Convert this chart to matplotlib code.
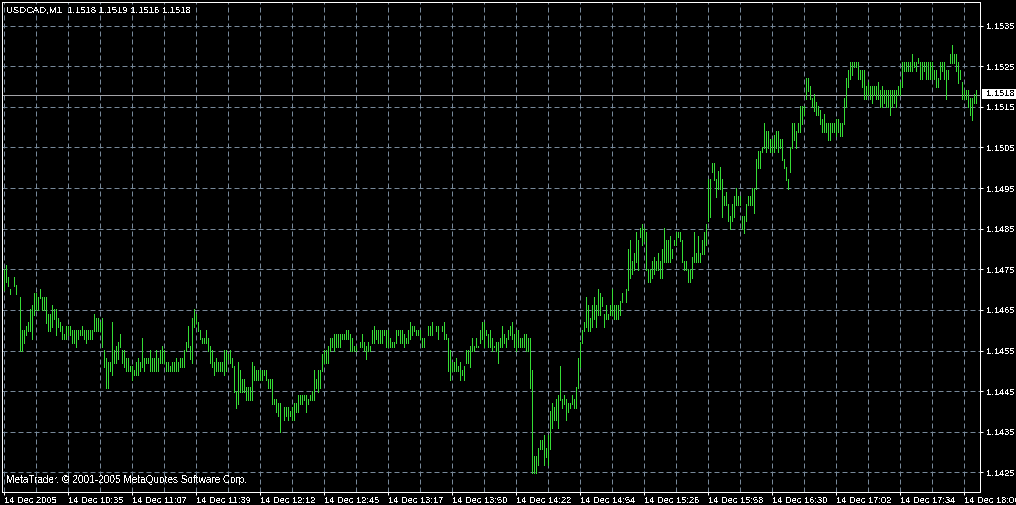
"""
USDCAD M1 bar chart in the MetaTrader green-on-black look
"""

import matplotlib
matplotlib.use("Agg")
import matplotlib.pyplot as plt  # type: ignore
from matplotlib.patches import Rectangle

SYMBOL = "USDCAD,M1"
LAST_OHLC = [1.1518, 1.1519, 1.1516, 1.1518]
LAST_PRICE = 1.1518
COPYRIGHT = "MetaTrader, \u00a9 2001-2005 MetaQuotes Software Corp."

# bar highs / lows in pips above BASE, one bar per minute (None = no bar drawn)
BASE = 1.1400
high_pips = [
    75, 76, 73, 70, None, 73, 71, None, 68, 60, 60, 61, 62, 65, 66, 69, 69, 68, 70, 68,
    68, 68, 64, 64, 66, 65, 65, 63, 62, 61, 59, 61, 61, 61, 60, 60, 60, 60, 60, 61,
    60, 60, 60, 60, 60, 64, 63, 63, 62, 63, 55, 53, 52, 52, 62, 55, 56, 57, 59, 55,
    55, 53, 53, 51, 51, 50, 52, 53, 52, 58, 53, 53, 53, 55, 53, 53, 55, 53, 55, 56,
    55, 52, 52, 51, 52, 52, 53, 52, 53, 53, 55, 57, 61, 56, 63, 65, 64, 62, 60, 58,
    58, 60, 58, 56, 55, 52, 53, 52, 52, 52, 55, 55, 54, 55, 53, 51, 45, 52, 50, 48,
    48, 46, 46, 46, 52, 51, 50, 50, 50, 50, 50, 50, 48, 48, 48, 43, 43, 42, 42, None,
    41, 41, 41, 40, 41, 42, 42, 44, 44, 44, 44, 44, 43, 44, 45, 50, 48, 50, 50, 54,
    55, 55, 56, 58, 58, 59, 59, 59, 59, 59, 59, 60, 60, 59, 58, 56, 56, None, 57, 59,
    57, 56, 57, 56, 60, 61, 60, 60, 60, 60, 60, 60, 60, 58, 57, 57, 60, 60, 60, 60,
    59, 58, 60, 62, 61, 61, 60, 60, 60, 58, 58, None, 61, 61, 62, None, 61, 61, None, 61,
    62, 59, 58, 55, 52, 52, 53, 51, 52, 50, 51, 55, 55, 56, 58, 56, 58, 56, 60, 62,
    62, 60, 59, 60, 58, 56, 57, 57, 58, 61, 59, 58, 60, 61, 62, 59, 60, 60, 58, 58,
    59, 59, 58, 58, 50, 29, 29, 31, 33, 33, 34, 31, 34, 40, 42, 41, 43, 44, 51, 43,
    44, 43, 42, 42, 44, 43, 46, 53, 57, 60, 62, 68, 66, 63, 66, 68, 66, 70, 69, 68,
    64, 66, 64, 66, 70, 66, 66, 66, 67, 69, None, 70, 80, 82, 77, 79, 84, 82, 85, 86,
    85, 84, 75, 75, 77, 78, 77, 79, 77, 80, 85, 82, 82, 83, 80, 82, 84, 84, 84, 82,
    77, 77, 75, 75, 78, 84, 79, 83, 79, 82, 84, 86, 97, 97, 101, 101, 97, 99, 100, 97,
    93, 94, 91, 88, 91, 93, 95, 93, 93, 88, 88, 91, 93, 93, 95, 95, 102, 104, 104, 105,
    111, 109, 109, 107, 107, 108, 109, 109, 107, 107, 102, 100, 97, 105, 111, 111, 109, 111, 115, 115,
    115, 122, 122, 120, 117, 118, 116, 115, 114, 112, 113, 111, 111, 111, 111, 111, 112, 112, 111, 111,
    117, 122, 124, 126, 126, 126, 126, 126, 124, 124, 124, 120, 121, 120, 120, 120, 120, 121, 119, 120,
    119, 119, 119, 119, 119, 119, 119, 120, 121, 126, 126, 126, 126, 126, 128, 126, 126, 127, 126, 126,
    126, 126, 126, 126, 126, 124, 124, 122, 126, 126, 126, 124, 124, 128, 130, 128, 128, 126, 124, 121,
    119, 119, 119, 117, 117, 118, 119,
]
low_pips = [
    70, 72, 71, 69, None, 71, 69, None, 55, 55, 57, 59, 60, 60, 58, 64, 65, 65, 68, 65,
    65, 62, 60, 60, 61, 63, 59, 61, 60, 58, 58, 58, 59, 59, 57, 57, 56, 58, 59, 59,
    58, 57, 58, 58, 58, 60, 60, 60, 60, 56, 51, 46, 46, 50, 49, 52, 52, 53, 56, 52,
    51, 50, 50, 50, 48, 49, 49, 49, 50, 51, 50, 52, 52, 50, 50, 50, 50, 50, 52, 52,
    52, 50, 50, 50, 50, 50, 50, 50, 51, 51, 51, 55, 56, 53, 52, 61, 62, 60, 58, 57,
    57, 57, 55, 52, 51, 49, 50, 50, 50, 50, 49, 50, 53, 52, 51, 45, 41, 42, 45, 45,
    45, 43, 43, 43, 43, 48, 48, 48, 48, 48, 49, 48, 46, 46, 42, 42, 40, 39, 35, None,
    38, 39, 38, 39, 38, 38, 40, 40, 42, 42, 43, 40, 42, 43, 43, 43, 46, 45, 46, 50,
    52, 52, 52, 55, 56, 55, 56, 56, 56, 58, 58, 58, 58, 55, 55, 55, 55, None, 56, 56,
    55, 53, 55, 55, 57, 57, 58, 57, 57, 57, 59, 56, 56, 56, 56, 56, 57, 59, 57, 57,
    56, 57, 57, 58, 59, 60, 59, 59, 58, 56, 56, None, 59, 59, 59, None, 60, 58, None, 60,
    58, 58, 50, 48, 50, 50, 50, 50, 48, 49, 48, 52, 52, 51, 55, 55, 56, 56, 57, 58,
    56, 59, 56, 56, 55, 56, 55, 52, 56, 56, 57, 56, 58, 59, 58, 56, 55, 56, 56, 56,
    56, 55, 55, 46, 25, 25, 25, 27, 31, 31, 27, 29, 27, 31, 36, 38, 38, 36, 43, 41,
    42, 38, 40, 41, 42, 41, 41, 46, 51, 57, 60, 61, 60, 60, 61, 63, 61, 64, 64, 66,
    61, 63, 63, 64, 64, 63, 63, 63, 64, 67, None, 67, 70, 73, 74, 75, 77, 75, 83, 81,
    82, 75, 72, 72, 73, 74, 75, 75, 73, 73, 77, 77, 77, 77, 78, 81, 81, 83, 82, 77,
    75, 75, 72, 72, 73, 77, 77, 77, 77, 79, 79, 81, 87, 88, 99, 97, 93, 95, 95, 88,
    91, 91, 87, 85, 87, 88, 91, 91, 91, 85, 84, 87, 91, 91, 91, 89, 95, 100, 100, 104,
    105, 104, 105, 104, 104, 104, 105, 104, 105, 102, 100, 97, 95, 99, 105, 107, 105, 109, 109, 111,
    113, 117, 119, 117, 115, 114, 113, 113, 111, 109, 109, 109, 107, 107, 109, 109, 108, 109, 108, 108,
    111, 115, 120, 122, 123, 125, 125, 122, 122, 120, 117, 117, 118, 117, 116, 118, 117, 117, 115, 115,
    116, 115, 115, 113, 115, 116, 115, 118, 118, 120, 124, 124, 124, 124, 124, 125, 124, 126, 122, 122,
    124, 122, 122, 122, 122, 122, 120, 120, 122, 124, 122, 117, 122, 126, 126, 126, 124, 121, 122, 117,
    117, 117, 115, 113, 112, 116, 116,
]

time_labels = [
    "14 Dec 2005", "14 Dec 10:35", "14 Dec 11:07", "14 Dec 11:39",
    "14 Dec 12:12", "14 Dec 12:45", "14 Dec 13:17", "14 Dec 13:50",
    "14 Dec 14:22", "14 Dec 14:54", "14 Dec 15:26", "14 Dec 15:58",
    "14 Dec 16:30", "14 Dec 17:02", "14 Dec 17:34", "14 Dec 18:06",
]
price_ticks = [1.1425, 1.1435, 1.1445, 1.1455, 1.1465, 1.1475,
               1.1485, 1.1495, 1.1505, 1.1515, 1.1525, 1.1535]

# layout (pixels of a 1016x505 canvas)
W, H = 1016, 505
PX = 0.72  # one pixel in points at dpi 100
BAR_GREEN = "#35dc35"
GRID = "#778899"
FONT = ["Liberation Sans", "DejaVu Sans"]


def main():
    """
    Draw the chart and save it
    """
    plt.rcParams["lines.scale_dashes"] = False
    plt.rcParams["font.family"] = FONT
    plt.rcParams["text.antialiased"] = False

    fig = plt.figure(figsize=(W / 100, H / 100), dpi=100, facecolor="black")
    ax = fig.add_axes([2 / W, 13 / H, 978 / W, 490 / H], facecolor="black")

    xs, lows, highs = [], [], []
    for i, (hi, lo) in enumerate(zip(high_pips, low_pips)):
        if hi is None:
            continue
        xs.append(i)
        # MetaTrader paints both end pixels, so pad the bar by half a pixel
        lows.append(BASE + (lo - 0.12) / 10000)
        highs.append(BASE + (hi + 0.12) / 10000)
    ax.vlines(xs, lows, highs, colors=BAR_GREEN, linewidth=PX, antialiased=False, zorder=3)

    ax.axhline(LAST_PRICE, color="#a4a4a8", linewidth=PX, zorder=2)

    # axis ranges: two pixels per bar, ~4.06 pixels per pip
    ax.set_xlim(-0.75, 488.25)
    ax.set_ylim(1.14202, 1.15408)

    major = [32 * k for k in range(len(time_labels))]
    ax.set_xticks(major)
    ax.set_xticklabels(time_labels, ha="left")
    ax.set_xticks([16 + 32 * k for k in range(len(time_labels) - 1)], minor=True)

    ax.yaxis.tick_right()
    ax.set_yticks(price_ticks)
    ax.set_yticklabels([f"{v:.4f}" for v in price_ticks])

    dash = (0, (3.6, 2.16))
    ax.grid(True, which="both", axis="x", color=GRID, linestyle=dash, linewidth=PX)
    ax.grid(True, which="major", axis="y", color=GRID, linestyle=dash, linewidth=PX)
    ax.set_axisbelow(True)

    ax.tick_params(axis="x", which="major", colors="white", length=3 * PX,
                   width=PX, pad=1, labelsize=6.7)
    ax.tick_params(axis="x", which="minor", length=0)
    ax.tick_params(axis="y", colors="white", length=3 * PX, width=PX,
                   pad=2, labelsize=6.7)
    for spine in ax.spines.values():
        spine.set_color("white")
        spine.set_linewidth(PX)

    # header and footer text
    header = SYMBOL + "  " + " ".join(f"{v:.4f}" for v in LAST_OHLC)
    fig.text(6.5 / W, 1 - 10.5 / H, header, color="white", fontsize=6.8, va="center")
    fig.text(6 / W, 1 - 480 / H, COPYRIGHT, color="white", fontsize=7.2, va="center")

    # last price tag on the price scale
    fig.add_artist(Rectangle((982 / W, 1 - 98.5 / H), 34 / W, 9.5 / H,
                             transform=fig.transFigure, facecolor="white",
                             edgecolor="none"))
    fig.text(986.5 / W, 1 - 93.8 / H, f"{LAST_PRICE:.4f}", color="black",
             fontsize=6.7, va="center")

    fig.savefig("out.png", dpi=100, facecolor="black")


if __name__ == "__main__":
    main()
